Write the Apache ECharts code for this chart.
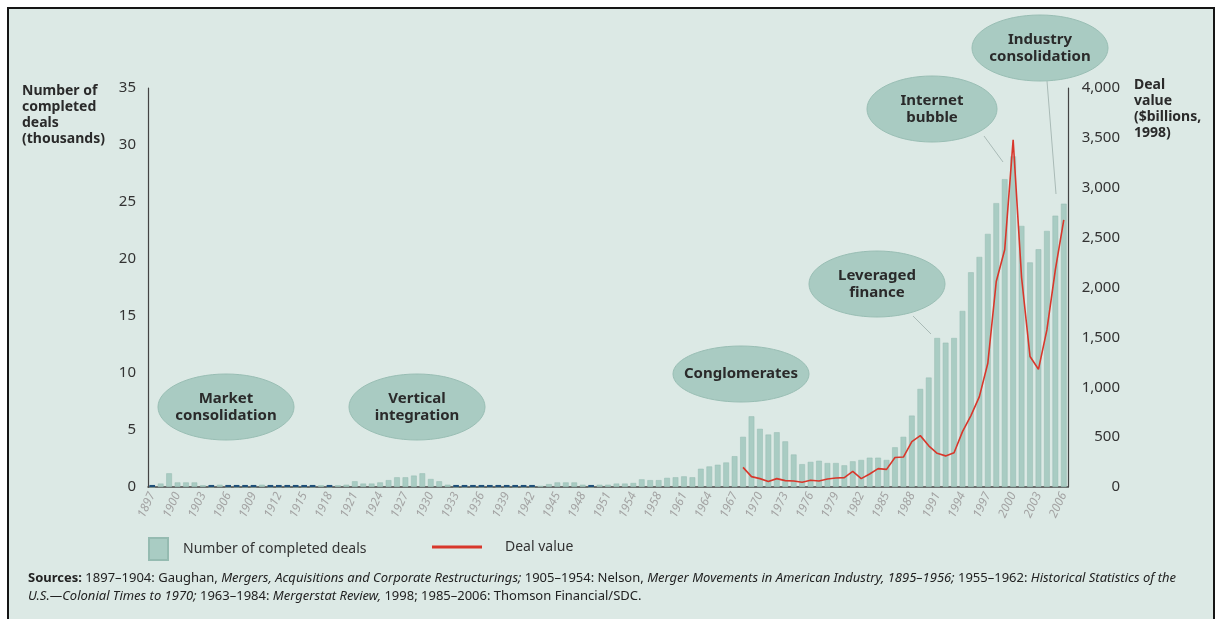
<!DOCTYPE html>
<html>
<head>
  <meta charset="UTF-8">
  <title>M&amp;A waves 1897-2006</title>
  <style>
    body { margin: 0; background: #fff; }
    #frame {
      position: absolute; left: 7px; top: 7px;
      width: 1204px; height: 640px;
      border: 2px solid #151515;
      background: #dce9e5;
    }
    #chart {
      position: absolute; left: 0; top: 0;
      width: 1218px; height: 619px;
    }
  </style>
  <script src="https://cdn.jsdelivr.net/npm/echarts@6/dist/echarts.min.js"></script>
</head>
<body>
<div id="frame"></div>
<div id="chart"></div>
<script>
  // categories (the source chart skips one year between 1954 and 1958)
  var years = [
    1897, 1898, 1899, 1900, 1901, 1902, 1903, 1904, 1905, 1906, 1907, 1908, 1909, 1910,
    1911, 1912, 1913, 1914, 1915, 1916, 1917, 1918, 1919, 1920, 1921, 1922, 1923, 1924,
    1925, 1926, 1927, 1928, 1929, 1930, 1931, 1932, 1933, 1934, 1935, 1936, 1937, 1938,
    1939, 1940, 1941, 1942, 1943, 1944, 1945, 1946, 1947, 1948, 1949, 1950, 1951, 1952,
    1953, 1954, 1955, 1957, 1958, 1959, 1960, 1961, 1962, 1963, 1964, 1965, 1966, 1967,
    1968, 1969, 1970, 1971, 1972, 1973, 1974, 1975, 1976, 1977, 1978, 1979, 1980, 1981,
    1982, 1983, 1984, 1985, 1986, 1987, 1988, 1989, 1990, 1991, 1992, 1993, 1994, 1995,
    1996, 1997, 1998, 1999, 2000, 2001, 2002, 2003, 2004, 2005, 2006
  ];

  // number of completed deals, thousands (0 = no data, drawn as a dark dash)
  var dealCounts = [
    0, 0.3, 1.2, 0.4, 0.4, 0.4, 0.15, 0, 0.2, 0, 0, 0, 0, 0.2,
    0, 0, 0, 0, 0, 0, 0.15, 0, 0.15, 0.2, 0.5, 0.3, 0.3, 0.4,
    0.6, 0.85, 0.85, 1.0, 1.2, 0.7, 0.5, 0.2, 0, 0, 0, 0, 0, 0,
    0, 0, 0, 0, 0.1, 0.25, 0.4, 0.4, 0.4, 0.2, 0, 0.2, 0.2, 0.3,
    0.3, 0.35, 0.67, 0.6, 0.6, 0.8, 0.85, 0.93, 0.85, 1.6, 1.8, 1.95, 2.15, 2.7,
    4.4, 6.2, 5.1, 4.6, 4.8, 4.0, 2.85, 2.0, 2.2, 2.3, 2.1, 2.1, 1.9, 2.25,
    2.37, 2.57, 2.57, 2.37, 3.48, 4.4, 6.26, 8.6, 9.6, 13.07, 12.66, 13.07, 15.44, 18.83,
    20.18, 22.2, 24.9, 27.0, 29.0, 22.9, 19.7, 20.85, 22.46, 23.8, 24.85
  ];

  // deal value, $billions (1998), from 1968 on
  var dealValueYears = [
    1968, 1969, 1970, 1971, 1972, 1973, 1974, 1975, 1976, 1977, 1978, 1979, 1980,
    1981, 1982, 1983, 1984, 1985, 1986, 1987, 1988, 1989, 1990, 1991, 1992, 1993,
    1994, 1995, 1996, 1997, 1998, 1999, 2000, 2001, 2002, 2003, 2004, 2005, 2006
  ];
  var dealValues = [
    197, 104, 84, 54, 84, 64, 60, 47, 67, 60, 80, 90, 94,
    157, 84, 130, 184, 177, 296, 300, 455, 515, 413, 338, 312, 344,
    555, 716, 906, 1241, 2060, 2378, 3480, 2100, 1308, 1180, 1575, 2177, 2679
  ];

  var countTicks = [0, 5, 10, 15, 20, 25, 30, 35];
  var valueTicks = [0, 500, 1000, 1500, 2000, 2500, 3000, 3500, 4000];

  var annotations = [
    { text: 'Market\nconsolidation', cx: 226, cy: 407, rx: 68, ry: 33 },
    { text: 'Vertical\nintegration', cx: 417, cy: 407, rx: 68, ry: 33 },
    { text: 'Conglomerates', cx: 741, cy: 374, rx: 68, ry: 28 },
    { text: 'Leveraged\nfinance', cx: 877, cy: 284, rx: 68, ry: 33 },
    { text: 'Internet\nbubble', cx: 932, cy: 109, rx: 65, ry: 33 },
    { text: 'Industry\nconsolidation', cx: 1040, cy: 48, rx: 68, ry: 33 }
  ];
  var leaders = [
    [913, 316, 931, 334],
    [984, 136, 1003, 162],
    [1047, 81, 1056, 194]
  ];

  var FONT = '"Noto Sans", "Open Sans", sans-serif';
  var barColor = '#a9ccc3';

  var valueSeries = years.map(function (y) {
    var k = dealValueYears.indexOf(y);
    return k < 0 ? '-' : dealValues[k];
  });
  var gapMarks = dealCounts.map(function (v) { return v === 0 ? 0.18 : '-'; });

  var graphics = [];
  annotations.forEach(function (a) {
    graphics.push({
      type: 'ellipse', z: 10,
      shape: { cx: a.cx, cy: a.cy, rx: a.rx, ry: a.ry },
      style: { fill: '#a9cbc2', stroke: '#98bdb3', lineWidth: 1 }
    });
    graphics.push({
      type: 'text', z: 11,
      x: a.cx, y: a.cy,
      style: {
        text: a.text, fill: '#2a2a2a', fontFamily: FONT, fontWeight: 'bold',
        fontSize: 15, lineHeight: 17, align: 'center', verticalAlign: 'middle'
      }
    });
  });
  leaders.forEach(function (l) {
    graphics.push({
      type: 'line', z: 9,
      shape: { x1: l[0], y1: l[1], x2: l[2], y2: l[3] },
      style: { stroke: '#a9bab6', lineWidth: 1 }
    });
  });
  graphics.push({
    type: 'text', left: 22, top: 83,
    style: {
      text: 'Number of\ncompleted\ndeals\n(thousands)', fill: '#2a2a2a',
      fontFamily: FONT, fontWeight: 'bold', fontSize: 14, lineHeight: 16
    }
  });
  graphics.push({
    type: 'text', left: 1134, top: 77,
    style: {
      text: 'Deal\nvalue\n($billions,\n1998)', fill: '#2a2a2a',
      fontFamily: FONT, fontWeight: 'bold', fontSize: 14, lineHeight: 16
    }
  });
  graphics.push({
    type: 'text', left: 28, top: 569,
    style: {
      text: '{b|Sources:} 1897–1904: Gaughan, {i|Mergers, Acquisitions and Corporate Restructurings;} 1905–1954: Nelson, {i|Merger Movements in American Industry, 1895–1956;} 1955–1962: {i|Historical Statistics of the}\n' +
            '{i|U.S.—Colonial Times to 1970;} 1963–1984: {i|Mergerstat Review,} 1998; 1985–2006: Thomson Financial/SDC.',
      fill: '#222', fontFamily: FONT, fontSize: 13, lineHeight: 18,
      rich: {
        b: { fontWeight: 'bold', fontFamily: FONT, fontSize: 13, fill: '#222' },
        i: { fontStyle: 'italic', fontFamily: FONT, fontSize: 13, fill: '#222' }
      }
    }
  });

  var chart = echarts.init(document.getElementById('chart'));
  chart.setOption({
    backgroundColor: 'transparent',
    animation: false,
    textStyle: { fontFamily: FONT },
    grid: { left: 148, right: 150, top: 88, bottom: 132, containLabel: false },
    legend: [{
      left: 143, top: 532, itemWidth: 19, itemHeight: 22, icon: 'rect',
      data: ['Number of completed deals'],
      textStyle: { fontSize: 14, color: '#333', padding: [0, 0, 0, 10] }
    }, {
      left: 427, top: 535, itemWidth: 50, itemHeight: 3, icon: 'rect',
      data: ['Deal value'],
      textStyle: { fontSize: 14, color: '#333', padding: [0, 0, 0, 18] }
    }],
    xAxis: {
      type: 'category',
      data: years,
      axisLine: { lineStyle: { color: '#444', width: 1.5 } },
      axisTick: { show: false },
      axisLabel: {
        interval: 2, rotate: 65, color: '#a3a3a3', fontSize: 12, margin: 6,
        fontStyle: 'italic'
      }
    },
    yAxis: [{
      type: 'value', min: countTicks[0], max: countTicks[countTicks.length - 1], interval: 5,
      position: 'left',
      axisLine: { show: true, lineStyle: { color: '#444', width: 1.2 } },
      axisTick: { show: false },
      splitLine: { show: false },
      axisLabel: { fontSize: 15, color: '#333', margin: 12 }
    }, {
      type: 'value', min: valueTicks[0], max: valueTicks[valueTicks.length - 1], interval: 500,
      position: 'right',
      axisLine: { show: true, lineStyle: { color: '#444', width: 1.2 } },
      axisTick: { show: false },
      splitLine: { show: false },
      axisLabel: {
        fontSize: 15, color: '#333', margin: 52, align: 'right',
        formatter: function (v) { return v.toLocaleString('en-US'); }
      }
    }],
    series: [{
      name: 'Number of completed deals',
      type: 'bar',
      data: dealCounts,
      barCategoryGap: '33%',
      itemStyle: { color: barColor, borderColor: '#95bbb1', borderWidth: 0.5 }
    }, {
      name: 'no data',
      type: 'bar',
      data: gapMarks,
      barGap: '-100%',
      barCategoryGap: '33%',
      itemStyle: { color: '#1f4f78' },
      silent: true
    }, {
      name: 'Deal value',
      type: 'line',
      yAxisIndex: 1,
      data: valueSeries,
      symbol: 'none',
      z: 5,
      lineStyle: { color: '#d8372b', width: 1.6 },
      itemStyle: { color: '#d8372b' }
    }],
    graphic: graphics
  });
</script>
</body>
</html>
